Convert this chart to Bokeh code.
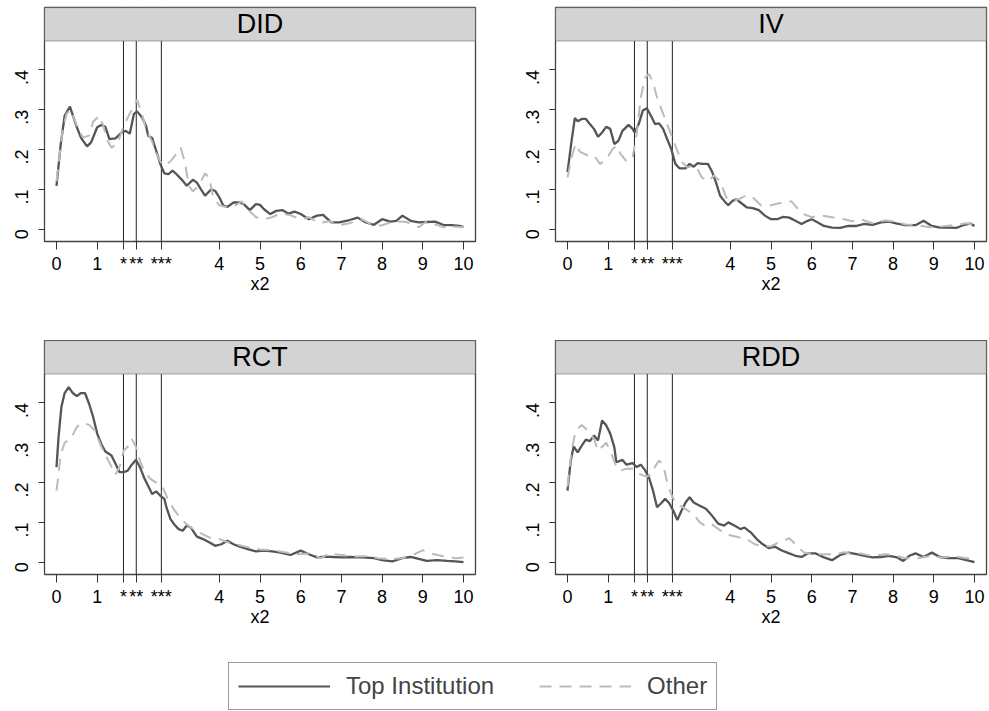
import math
from bokeh.plotting import figure
from bokeh.models import Range1d, FixedTicker, Span, BoxAnnotation, Label, Legend, LegendItem
from bokeh.layouts import column, row
from bokeh.embed import file_html
from bokeh.resources import INLINE

# ---------------- data ----------------
panel_names = ["DID", "IV", "RCT", "RDD"]
series_names = ["Top Institution", "Other"]
crit_values = [1.645, 1.96, 2.576]
crit_labels = ["*", "**", "***"]
x_ticks = [0, 1, 4, 5, 6, 7, 8, 9, 10]
y_ticks = [0, 0.1, 0.2, 0.3, 0.4]
y_tick_labels = ["0", ".1", ".2", ".3", ".4"]
x_axis_title = "x2"

did_top_x = [0, 0.1, 0.2, 0.33, 0.5, 0.6, 0.75, 0.85, 1.0, 1.1, 1.2, 1.3, 1.45, 1.6, 1.7, 1.8, 1.9, 1.98,
             2.1, 2.2, 2.25, 2.35, 2.45, 2.55, 2.65, 2.75, 2.85, 2.95, 3.1, 3.2, 3.35, 3.45, 3.55, 3.65,
             3.8, 3.9, 4.0, 4.1, 4.2, 4.35, 4.5, 4.6, 4.75, 4.9, 5.0, 5.1, 5.25, 5.4, 5.55, 5.7, 5.85,
             6.0, 6.2, 6.4, 6.55, 6.75, 6.95, 7.2, 7.4, 7.6, 7.8, 8.0, 8.2, 8.35, 8.5, 8.7, 8.9, 9.1,
             9.3, 9.5, 9.7, 9.9, 10.0]
did_top_y = [0.109, 0.21, 0.285, 0.308, 0.256, 0.23, 0.208, 0.218, 0.256, 0.262, 0.257, 0.226, 0.228,
             0.243, 0.247, 0.24, 0.289, 0.296, 0.281, 0.26, 0.235, 0.229, 0.197, 0.164, 0.14, 0.138,
             0.147, 0.138, 0.122, 0.109, 0.124, 0.117, 0.10, 0.084, 0.10, 0.096, 0.080, 0.059, 0.056,
             0.067, 0.067, 0.063, 0.048, 0.063, 0.061, 0.050, 0.038, 0.046, 0.048, 0.039, 0.044, 0.038,
             0.025, 0.034, 0.036, 0.017, 0.017, 0.023, 0.029, 0.017, 0.011, 0.025, 0.019, 0.021, 0.034,
             0.021, 0.017, 0.018, 0.019, 0.011, 0.010, 0.008, 0.006]
did_oth_x = [0, 0.15, 0.25, 0.35, 0.5, 0.65, 0.8, 0.9, 1.05, 1.15, 1.25, 1.35, 1.5, 1.65, 1.75, 1.9, 1.98,
             2.1, 2.2, 2.35, 2.45, 2.55, 2.65, 2.8, 2.95, 3.05, 3.15, 3.25, 3.35, 3.5, 3.65, 3.75, 3.85,
             4.0, 4.2, 4.4, 4.55, 4.75, 4.9, 5.1, 5.3, 5.5, 5.75, 6.0, 6.2, 6.45, 6.7, 6.95, 7.2, 7.5,
             7.8, 8.0, 8.3, 8.6, 8.9, 9.1, 9.3, 9.5, 9.8, 10.0]
did_oth_y = [0.12, 0.25, 0.29, 0.30, 0.26, 0.23, 0.235, 0.27, 0.285, 0.26, 0.222, 0.205, 0.215, 0.26,
             0.28, 0.31, 0.325, 0.29, 0.25, 0.22, 0.19, 0.17, 0.16, 0.17, 0.19, 0.205, 0.17, 0.11,
             0.095, 0.11, 0.14, 0.13, 0.08, 0.06, 0.055, 0.06, 0.07, 0.045, 0.03, 0.025, 0.03, 0.04,
             0.035, 0.025, 0.03, 0.015, 0.02, 0.01, 0.015, 0.025, 0.008, 0.01, 0.02, 0.018, 0.005,
             0.02, 0.012, 0.005, 0.006, 0.005]

iv_top_x = [0, 0.1, 0.18, 0.25, 0.35, 0.45, 0.55, 0.65, 0.75, 0.85, 0.95, 1.05, 1.15, 1.25, 1.35, 1.5,
            1.6, 1.65, 1.75, 1.85, 1.95, 2.05, 2.15, 2.25, 2.35, 2.45, 2.55, 2.65, 2.75, 2.9, 3.0, 3.1,
            3.2, 3.3, 3.45, 3.55, 3.65, 3.75, 3.85, 3.95, 4.05, 4.15, 4.25, 4.4, 4.55, 4.7, 4.85, 5.0,
            5.15, 5.3, 5.45, 5.6, 5.75, 5.9, 6.0, 6.15, 6.3, 6.5, 6.7, 6.9, 7.1, 7.3, 7.5, 7.7, 7.9,
            8.1, 8.3, 8.55, 8.75, 8.95, 9.15, 9.35, 9.55, 9.75, 9.9, 10.0]
iv_top_y = [0.143, 0.222, 0.279, 0.271, 0.277, 0.277, 0.264, 0.252, 0.232, 0.243, 0.257, 0.252, 0.214,
            0.222, 0.247, 0.262, 0.252, 0.243, 0.264, 0.298, 0.304, 0.285, 0.264, 0.266, 0.252, 0.226,
            0.201, 0.164, 0.153, 0.153, 0.164, 0.157, 0.166, 0.164, 0.164, 0.145, 0.117, 0.084, 0.071,
            0.060, 0.071, 0.075, 0.067, 0.055, 0.053, 0.048, 0.034, 0.025, 0.025, 0.031, 0.029, 0.021,
            0.013, 0.021, 0.025, 0.017, 0.008, 0.004, 0.003, 0.008, 0.008, 0.013, 0.011, 0.017, 0.019,
            0.014, 0.010, 0.010, 0.021, 0.008, 0.004, 0.004, 0.003, 0.011, 0.014, 0.008]
iv_oth_x = [0, 0.1, 0.2, 0.3, 0.5, 0.65, 0.8, 0.95, 1.1, 1.2, 1.3, 1.45, 1.6, 1.7, 1.8, 1.9, 2.0, 2.1,
            2.2, 2.35, 2.5, 2.65, 2.8, 2.95, 3.1, 3.2, 3.3, 3.45, 3.6, 3.75, 3.9, 4.05, 4.2, 4.4, 4.55,
            4.75, 5.0, 5.2, 5.5, 5.75, 6.0, 6.2, 6.5, 6.8, 7.0, 7.2, 7.5, 7.8, 8.0, 8.3, 8.6, 8.9, 9.2,
            9.5, 9.8, 10.0]
iv_oth_y = [0.13, 0.18, 0.214, 0.195, 0.185, 0.185, 0.164, 0.175, 0.20, 0.21, 0.19, 0.17, 0.18, 0.24,
            0.33, 0.38, 0.39, 0.37, 0.33, 0.29, 0.25, 0.21, 0.17, 0.155, 0.16, 0.15, 0.13, 0.12, 0.135,
            0.12, 0.08, 0.07, 0.075, 0.085, 0.08, 0.06, 0.06, 0.065, 0.07, 0.04, 0.03, 0.035, 0.03,
            0.025, 0.02, 0.025, 0.015, 0.022, 0.02, 0.012, 0.01, 0.005, 0.007, 0.01, 0.015, 0.01]

rct_top_x = [0, 0.05, 0.12, 0.2, 0.3, 0.4, 0.5, 0.6, 0.7, 0.8, 0.9, 1.0, 1.1, 1.2, 1.35, 1.45, 1.55,
             1.65, 1.75, 1.85, 1.95, 2.05, 2.15, 2.25, 2.35, 2.45, 2.55, 2.65, 2.7, 2.8, 2.9, 3.0, 3.1,
             3.2, 3.3, 3.45, 3.6, 3.75, 3.9, 4.05, 4.2, 4.35, 4.5, 4.7, 4.9, 5.1, 5.3, 5.5, 5.75, 6.0,
             6.2, 6.4, 6.6, 6.8, 7.0, 7.2, 7.5, 7.8, 8.0, 8.25, 8.5, 8.7, 8.9, 9.1, 9.35, 9.6, 9.8, 10.0]
rct_top_y = [0.239, 0.314, 0.39, 0.425, 0.44, 0.425, 0.417, 0.425, 0.425, 0.398, 0.365, 0.323, 0.297,
             0.278, 0.268, 0.247, 0.226, 0.226, 0.230, 0.245, 0.257, 0.239, 0.213, 0.192, 0.171, 0.178,
             0.167, 0.159, 0.138, 0.108, 0.094, 0.083, 0.079, 0.092, 0.087, 0.064, 0.058, 0.050, 0.041,
             0.045, 0.054, 0.045, 0.039, 0.033, 0.027, 0.029, 0.027, 0.024, 0.018, 0.029, 0.020, 0.012,
             0.014, 0.013, 0.012, 0.013, 0.012, 0.010, 0.005, 0.002, 0.010, 0.013, 0.008, 0.003, 0.005,
             0.003, 0.002, 0.0]
rct_oth_x = [0, 0.05, 0.1, 0.2, 0.35, 0.5, 0.65, 0.8, 0.95, 1.1, 1.25, 1.35, 1.45, 1.55, 1.65, 1.75,
             1.85, 1.95, 2.05, 2.15, 2.3, 2.45, 2.6, 2.75, 2.9, 3.05, 3.2, 3.4, 3.6, 3.8, 4.0, 4.2, 4.4,
             4.6, 4.8, 5.0, 5.3, 5.6, 5.9, 6.2, 6.5, 6.7, 7.0, 7.3, 7.6, 7.9, 8.2, 8.5, 8.8, 9.0, 9.2,
             9.5, 9.8, 10.0]
rct_oth_y = [0.18, 0.22, 0.27, 0.30, 0.31, 0.34, 0.35, 0.345, 0.33, 0.29, 0.26, 0.24, 0.22, 0.24, 0.28,
             0.29, 0.31, 0.29, 0.255, 0.23, 0.21, 0.20, 0.19, 0.155, 0.13, 0.11, 0.095, 0.08, 0.07,
             0.06, 0.058, 0.05, 0.045, 0.04, 0.035, 0.032, 0.03, 0.025, 0.02, 0.022, 0.01, 0.022, 0.018,
             0.014, 0.015, 0.01, 0.008, 0.01, 0.02, 0.03, 0.022, 0.015, 0.01, 0.012]

rdd_top_x = [0, 0.08, 0.15, 0.25, 0.35, 0.45, 0.55, 0.65, 0.75, 0.85, 0.95, 1.05, 1.15, 1.2, 1.35,
             1.45, 1.6, 1.7, 1.8, 1.9, 2.0, 2.1, 2.2, 2.3, 2.4, 2.5, 2.6, 2.7, 2.8, 2.9, 3.0, 3.1, 3.25,
             3.4, 3.55, 3.7, 3.85, 3.95, 4.1, 4.25, 4.35, 4.5, 4.65, 4.8, 4.95, 5.1, 5.25, 5.4, 5.6,
             5.75, 5.9, 6.1, 6.3, 6.5, 6.7, 6.9, 7.1, 7.3, 7.5, 7.7, 7.9, 8.1, 8.25, 8.4, 8.55, 8.75,
             8.95, 9.15, 9.35, 9.6, 9.8, 10.0]
rdd_top_y = [0.18, 0.255, 0.291, 0.276, 0.293, 0.308, 0.304, 0.318, 0.306, 0.356, 0.344, 0.323, 0.289,
             0.251, 0.257, 0.245, 0.249, 0.239, 0.245, 0.232, 0.213, 0.180, 0.138, 0.148, 0.159, 0.148,
             0.129, 0.106, 0.129, 0.150, 0.163, 0.150, 0.142, 0.134, 0.117, 0.097, 0.092, 0.10, 0.092,
             0.083, 0.087, 0.075, 0.058, 0.045, 0.035, 0.039, 0.030, 0.024, 0.016, 0.013, 0.022, 0.022,
             0.012, 0.005, 0.018, 0.024, 0.020, 0.016, 0.012, 0.013, 0.016, 0.012, 0.003, 0.016, 0.022,
             0.013, 0.024, 0.013, 0.010, 0.010, 0.005, 0.0]
rdd_oth_x = [0, 0.1, 0.2, 0.35, 0.5, 0.65, 0.75, 0.85, 0.95, 1.05, 1.2, 1.3, 1.45, 1.6, 1.8, 1.95, 2.05,
             2.15, 2.25, 2.35, 2.45, 2.55, 2.65, 2.8, 2.95, 3.1, 3.25, 3.4, 3.55, 3.75, 3.9, 4.1, 4.3,
             4.45, 4.6, 4.8, 5.0, 5.2, 5.45, 5.6, 5.8, 6.0, 6.3, 6.6, 6.8, 7.0, 7.2, 7.5, 7.8, 8.0, 8.3,
             8.6, 8.9, 9.2, 9.5, 9.8, 10.0]
rdd_oth_y = [0.19, 0.28, 0.33, 0.345, 0.33, 0.31, 0.28, 0.29, 0.30, 0.28, 0.24, 0.23, 0.235, 0.235,
             0.22, 0.215, 0.22, 0.24, 0.255, 0.245, 0.20, 0.17, 0.15, 0.14, 0.13, 0.12, 0.10, 0.09,
             0.095, 0.08, 0.07, 0.065, 0.06, 0.055, 0.045, 0.04, 0.04, 0.05, 0.06, 0.045, 0.025, 0.02,
             0.02, 0.02, 0.025, 0.02, 0.022, 0.015, 0.02, 0.018, 0.01, 0.01, 0.015, 0.012, 0.015, 0.01,
             0.01]

panel_data = {
    "DID": (did_top_x, did_top_y, did_oth_x, did_oth_y),
    "IV": (iv_top_x, iv_top_y, iv_oth_x, iv_oth_y),
    "RCT": (rct_top_x, rct_top_y, rct_oth_x, rct_oth_y),
    "RDD": (rdd_top_x, rdd_top_y, rdd_oth_x, rdd_oth_y),
}

# ---------------- style / layout ----------------
FONT = "Liberation Sans"
TOP_COLOR = "#555555"
OTHER_COLOR = "#bbbbbb"
FRAME_COLOR = "#444444"
HEADER_FILL = "#d3d3d3"
DASH = "12 8"
X_START, X_END = -0.295, 10.295
Y_START, Y_END = -0.031, 0.557
HDR_BOTTOM = 0.473
FRAME_H = 234
FRAME_W = 431


def make_panel(name, left_border, right_border, top_border, bottom_border):
    tx, ty, ox, oy = panel_data[name]
    p = figure(frame_width=FRAME_W, frame_height=FRAME_H,
               x_range=Range1d(X_START, X_END), y_range=Range1d(Y_START, Y_END),
               output_backend="svg", toolbar_location=None,
               min_border_left=left_border, min_border_right=right_border,
               min_border_top=top_border, min_border_bottom=bottom_border)
    p.grid.visible = False
    p.background_fill_color = "white"
    p.border_fill_color = "white"
    p.outline_line_color = FRAME_COLOR
    p.outline_line_width = 1.3

    for v in crit_values:
        p.add_layout(Span(location=v, dimension="height", line_color="#222222",
                          line_width=1, level="underlay"))

    p.line(tx, ty, line_color=TOP_COLOR, line_width=2.3)
    p.line(ox, oy, line_color=OTHER_COLOR, line_width=2, line_dash=DASH)

    p.add_layout(BoxAnnotation(left=X_START, right=X_END, bottom=HDR_BOTTOM, top=Y_END,
                               fill_color=HEADER_FILL, fill_alpha=1.0,
                               line_color=FRAME_COLOR, line_width=1.5))
    p.add_layout(Label(x=(X_START + X_END) / 2, y=(HDR_BOTTOM + Y_END) / 2, text=name,
                       text_font=FONT, text_font_size="27px", text_color="black",
                       text_align="center", text_baseline="middle"))

    xt = sorted(x_ticks + crit_values)
    xo = {float(t): str(t) for t in x_ticks}
    for v, lab in zip(crit_values, crit_labels):
        xo[float(v)] = lab
    p.xaxis.ticker = FixedTicker(ticks=xt)
    p.xaxis.major_label_overrides = xo
    p.xaxis.axis_label = x_axis_title
    p.xaxis.axis_label_text_font = FONT
    p.xaxis.axis_label_text_font_size = "18px"
    p.xaxis.axis_label_text_font_style = "normal"
    p.xaxis.axis_label_text_color = "black"
    p.xaxis.axis_label_standoff = -3
    p.xaxis.major_tick_out = 8
    p.xaxis.major_tick_in = 0
    p.xaxis.major_label_standoff = 4

    p.yaxis.ticker = FixedTicker(ticks=y_ticks)
    p.yaxis.major_label_overrides = {float(t): lab for t, lab in zip(y_ticks, y_tick_labels)}
    p.yaxis.major_label_orientation = math.pi / 2
    p.yaxis.major_tick_out = 6
    p.yaxis.major_tick_in = 0
    p.yaxis.major_label_standoff = 17

    for ax in (p.xaxis, p.yaxis):
        ax.axis_line_color = None
        ax.minor_tick_line_color = None
        ax.major_tick_line_color = "#333333"
        ax.major_label_text_font = FONT
        ax.major_label_text_font_size = "18px"
        ax.major_label_text_color = "black"
    return p


# the page body has no margin: figures are placed from (0, 0)
p1 = make_panel("DID", 44, 15, 7, 99)
p2 = make_panel("IV", 65, 3, 7, 99)
p3 = make_panel("RCT", 44, 15, 0, 76)
p4 = make_panel("RDD", 65, 3, 0, 76)

# legend strip (renderers use real data but sit outside the visible range)
pl = figure(width=989, height=61, output_backend="svg", toolbar_location=None,
            x_axis_location=None, y_axis_location=None,
            x_range=Range1d(-100, -99), y_range=Range1d(-100, -99),
            min_border_left=0, min_border_right=0, min_border_top=0, min_border_bottom=0)
pl.grid.visible = False
pl.outline_line_color = None
r_top = pl.line(did_top_x, did_top_y, line_color=TOP_COLOR, line_width=2)
r_oth = pl.line(did_oth_x, did_oth_y, line_color=OTHER_COLOR, line_width=2, line_dash=DASH)
legend = Legend(items=[LegendItem(label=series_names[0], renderers=[r_top]),
                       LegendItem(label=series_names[1], renderers=[r_oth])],
                orientation="horizontal", location=(228, 1), margin=0,
                padding=9, spacing=45, glyph_width=92, label_standoff=16,
                label_text_font=FONT, label_text_font_size="24px",
                border_line_color="#333333", border_line_width=1.5,
                background_fill_alpha=1.0)
pl.add_layout(legend)

layout = column(row(p1, p2), row(p3, p4), pl)

open("out.html", "w").write(file_html(layout, INLINE))
